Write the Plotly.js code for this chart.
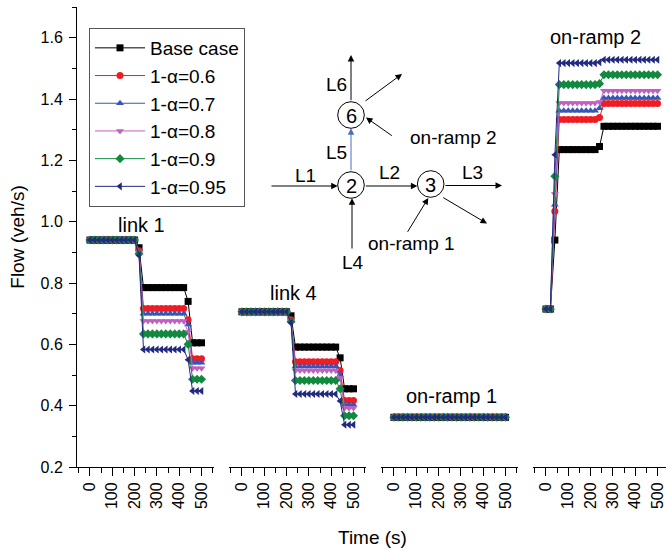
<!DOCTYPE html>
<html><head><meta charset="utf-8">
<script src="https://cdn.plot.ly/plotly-3.0.1.min.js"></script>
<style>html,body{margin:0;padding:0;background:#fff}#chart{width:666px;height:550px}</style>
</head><body><div id="chart"></div>
<script>
// ---------------- DATA ----------------
const time = [0,20,40,60,80,100,120,140,160,180,200,220,240,260,280,300,320,340,360,380,400,420,440,460,480,500];
const seriesNames = ['Base case','1-α=0.6','1-α=0.7','1-α=0.8','1-α=0.9','1-α=0.95'];
const panelLabels = ['link 1','link 4','on-ramp 1','on-ramp 2'];
const xTickVals = [0,100,200,300,400,500];

// link 1
const link1Base = [0.94,0.94,0.94,0.94,0.94,0.94,0.94,0.94,0.94,0.94,0.94,0.915,0.785,0.785,0.785,0.785,0.785,0.785,0.785,0.785,0.785,0.785,0.74,0.605,0.605,0.605];
const link1A06  = [0.94,0.94,0.94,0.94,0.94,0.94,0.94,0.94,0.94,0.94,0.94,0.905,0.717,0.717,0.717,0.717,0.717,0.717,0.717,0.717,0.717,0.717,0.68,0.553,0.553,0.553];
const link1A07  = [0.94,0.94,0.94,0.94,0.94,0.94,0.94,0.94,0.94,0.94,0.94,0.90,0.700,0.700,0.700,0.700,0.700,0.700,0.700,0.700,0.700,0.700,0.665,0.540,0.540,0.540];
const link1A08  = [0.94,0.94,0.94,0.94,0.94,0.94,0.94,0.94,0.94,0.94,0.94,0.90,0.676,0.676,0.676,0.676,0.676,0.676,0.676,0.676,0.676,0.676,0.64,0.522,0.522,0.522];
const link1A09  = [0.94,0.94,0.94,0.94,0.94,0.94,0.94,0.94,0.94,0.94,0.94,0.895,0.634,0.634,0.634,0.634,0.634,0.634,0.634,0.634,0.634,0.634,0.60,0.486,0.486,0.486];
const link1A095 = [0.94,0.94,0.94,0.94,0.94,0.94,0.94,0.94,0.94,0.94,0.94,0.89,0.583,0.583,0.583,0.583,0.583,0.583,0.583,0.583,0.583,0.583,0.55,0.448,0.448,0.448];

// link 4
const link4Base = [0.706,0.706,0.706,0.706,0.706,0.706,0.706,0.706,0.706,0.706,0.706,0.693,0.591,0.591,0.591,0.591,0.591,0.591,0.591,0.591,0.591,0.591,0.556,0.455,0.455,0.455];
const link4A06  = [0.706,0.706,0.706,0.706,0.706,0.706,0.706,0.706,0.706,0.706,0.706,0.68,0.543,0.543,0.543,0.543,0.543,0.543,0.543,0.543,0.543,0.543,0.515,0.417,0.417,0.417];
const link4A07  = [0.706,0.706,0.706,0.706,0.706,0.706,0.706,0.706,0.706,0.706,0.706,0.678,0.528,0.528,0.528,0.528,0.528,0.528,0.528,0.528,0.528,0.528,0.50,0.403,0.403,0.403];
const link4A08  = [0.706,0.706,0.706,0.706,0.706,0.706,0.706,0.706,0.706,0.706,0.706,0.676,0.515,0.515,0.515,0.515,0.515,0.515,0.515,0.515,0.515,0.515,0.49,0.392,0.392,0.392];
const link4A09  = [0.706,0.706,0.706,0.706,0.706,0.706,0.706,0.706,0.706,0.706,0.706,0.674,0.482,0.482,0.482,0.482,0.482,0.482,0.482,0.482,0.482,0.482,0.455,0.367,0.367,0.367];
const link4A095 = [0.706,0.706,0.706,0.706,0.706,0.706,0.706,0.706,0.706,0.706,0.706,0.67,0.438,0.438,0.438,0.438,0.438,0.438,0.438,0.438,0.438,0.438,0.415,0.338,0.338,0.338];

// on-ramp 1 (all series identical)
const ramp1All = [0.362,0.362,0.362,0.362,0.362,0.362,0.362,0.362,0.362,0.362,0.362,0.362,0.362,0.362,0.362,0.362,0.362,0.362,0.362,0.362,0.362,0.362,0.362,0.362,0.362,0.362];

// on-ramp 2
const ramp2Base = [0.715,0.715,0.94,1.235,1.235,1.235,1.235,1.235,1.235,1.235,1.235,1.235,1.245,1.311,1.311,1.311,1.311,1.311,1.311,1.311,1.311,1.311,1.311,1.311,1.311,1.311];
const ramp2A06  = [0.715,0.715,1.034,1.333,1.333,1.333,1.333,1.333,1.333,1.333,1.333,1.333,1.34,1.385,1.385,1.385,1.385,1.385,1.385,1.385,1.385,1.385,1.385,1.385,1.385,1.385];
const ramp2A07  = [0.715,0.715,1.055,1.362,1.362,1.362,1.362,1.362,1.362,1.362,1.362,1.362,1.37,1.403,1.403,1.403,1.403,1.403,1.403,1.403,1.403,1.403,1.403,1.403,1.403,1.403];
const ramp2A08  = [0.715,0.715,1.09,1.387,1.387,1.387,1.387,1.387,1.387,1.387,1.387,1.387,1.39,1.427,1.427,1.427,1.427,1.427,1.427,1.427,1.427,1.427,1.427,1.427,1.427,1.427];
const ramp2A09  = [0.715,0.715,1.148,1.447,1.447,1.447,1.447,1.447,1.447,1.447,1.447,1.447,1.45,1.479,1.479,1.479,1.479,1.479,1.479,1.479,1.479,1.479,1.479,1.479,1.479,1.479];
const ramp2A095 = [0.715,0.715,1.218,1.517,1.517,1.517,1.517,1.517,1.517,1.517,1.517,1.517,1.52,1.528,1.528,1.528,1.528,1.528,1.528,1.528,1.528,1.528,1.528,1.528,1.528,1.528];

const panels = [
  [link1Base, link1A06, link1A07, link1A08, link1A09, link1A095],
  [link4Base, link4A06, link4A07, link4A08, link4A09, link4A095],
  [ramp1All, ramp1All, ramp1All, ramp1All, ramp1All, ramp1All],
  [ramp2Base, ramp2A06, ramp2A07, ramp2A08, ramp2A09, ramp2A095]
];

// ---------------- STYLE / LAYOUT ----------------
const styles = [
  {color:'#000000', symbol:'square'},
  {color:'#f01c24', symbol:'circle'},
  {color:'#3557b8', symbol:'triangle-up'},
  {color:'#c35ec3', symbol:'triangle-down'},
  {color:'#12893f', symbol:'diamond'},
  {color:'#222a80', symbol:'triangle-left'}
];
const FONT = "'Liberation Sans', Arial, sans-serif";
const W = 666, H = 550, ML = 77, MR = 0, MT = 7, MB = 83;
const PW = W - ML - MR, PH = H - MT - MB;
const px = v => (v - ML) / PW;
const py = v => (H - MB - v) / PH;

const traces = [];
panels.forEach((series, p) => {
  series.forEach((vals, s) => {
    traces.push({
      x: time, y: vals,
      xaxis: p === 0 ? 'x' : 'x' + (p + 1), yaxis: 'y',
      type: 'scatter', mode: 'lines+markers',
      name: seriesNames[s], legendgroup: seriesNames[s], showlegend: p === 0,
      line: {color: styles[s].color, width: 1},
      marker: {color: styles[s].color, symbol: styles[s].symbol, size: 7},
      cliponaxis: false
    });
  });
});

const panelPx = [[77,214],[229,366],[381,518],[533,666]];
const panelRanges = [[-58,556],[-58,556],[-58,556],[-58,538]];
function xAxis(i){
  return {
    domain: [px(panelPx[i][0]), px(panelPx[i][1])],
    range: panelRanges[i], anchor: 'y',
    showline: true, linecolor: '#000', linewidth: 1,
    ticks: 'outside', ticklen: 8, tickwidth: 1, tickcolor: '#000',
    tickmode: 'array', tickvals: xTickVals, tickangle: -90,
    tickfont: {size: 16, family: FONT, color: '#000'},
    minor: {ticks: 'outside', ticklen: 5, tickwidth: 1, tickcolor: '#000', tickmode: 'linear', tick0: 50, dtick: 100, showgrid: false},
    showgrid: false, zeroline: false, fixedrange: true
  };
}

const annotations = [];
function label(text, cx, cy, size){
  annotations.push({xref:'paper', yref:'paper', x: px(cx), y: py(cy), text: text, showarrow: false,
    xanchor:'center', yanchor:'middle', font:{size: size, family: FONT, color:'#000'}});
}
function arrow(tx, ty, hx, hy, color){
  annotations.push({xref:'paper', yref:'paper', x: px(hx), y: py(hy), ax: tx - hx, ay: ty - hy,
    axref:'pixel', ayref:'pixel', text:'', showarrow: true, arrowhead: 2, arrowsize: 1.3,
    arrowwidth: 1, arrowcolor: color || '#000', standoff: 0, startstandoff: 0});
}
// panel labels
label(panelLabels[0], 141.5, 225, 20);
label(panelLabels[1], 293, 293, 20);
label(panelLabels[2], 451, 396, 20);
label(panelLabels[3], 595, 37, 20);
// x title
label('Time (s)', 372, 537, 19);

// network diagram
const nodes = [{n:'2', x:351, y:185}, {n:'3', x:430.7, y:184}, {n:'6', x:351, y:115}];
const R = 13.3;
const shapes = nodes.map(c => ({type:'circle', xref:'paper', yref:'paper',
  x0: px(c.x - R), x1: px(c.x + R), y0: py(c.y + R), y1: py(c.y - R),
  line:{color:'#000', width:1}, fillcolor:'rgba(0,0,0,0)'}));
nodes.forEach(c => label(c.n, c.x, c.y + 1, 20));
arrow(270, 186, 337.7, 186);           // L1
arrow(364.3, 186, 417.4, 186);         // L2
arrow(444, 185.5, 502, 185.5);         // L3
arrow(352, 250, 352, 198.3);           // L4
arrow(351, 171.7, 351, 128.3, '#4a6cc8'); // L5
arrow(351, 101.7, 351, 55);            // L6
arrow(364, 102, 402, 74);              // out of node 6
arrow(393.3, 136.7, 366, 117.5);       // on-ramp 2 into 6
arrow(406.7, 233.3, 428.3, 198);       // on-ramp 1 into 3
arrow(441.7, 196.7, 487, 223.5);       // out of node 3
label('L1', 305, 175, 19);
label('L2', 389, 172.5, 19);
label('L3', 472.5, 172.5, 19);
label('L4', 352.5, 262, 19);
label('L5', 336, 152.5, 19);
label('L6', 336, 84, 19);
label('on-ramp 2', 453.3, 137, 19);
label('on-ramp 1', 411.7, 243.5, 19);

const layout = {
  width: W, height: H,
  margin: {l: ML, r: MR, t: MT, b: MB, pad: 0},
  paper_bgcolor: '#fff', plot_bgcolor: 'rgba(0,0,0,0)',
  font: {family: FONT, color: '#000', size: 16},
  showlegend: true,
  legend: {x: px(89), y: py(28), xanchor: 'left', yanchor: 'top',
    bgcolor: '#fff', bordercolor: '#555', borderwidth: 1,
    font: {size: 19, family: FONT, color: '#000'}, itemwidth: 50, tracegroupgap: 0,
    entrywidth: 165, entrywidthmode: 'pixels'},
  xaxis: xAxis(0), xaxis2: xAxis(1), xaxis3: xAxis(2), xaxis4: xAxis(3),
  yaxis: {
    domain: [0, 1], range: [0.2, 1.7], anchor: 'x',
    showline: true, linecolor: '#000', linewidth: 1,
    ticks: 'outside', ticklen: 7, tickwidth: 1, tickcolor: '#000',
    tickmode: 'linear', tick0: 0.2, dtick: 0.2, tickformat: '.1f',
    tickfont: {size: 16, family: FONT, color: '#000'},
    minor: {ticks: 'outside', ticklen: 4, tickwidth: 1, tickcolor: '#000', tickmode: 'linear', tick0: 0.3, dtick: 0.2, showgrid: false},
    ticklabelstandoff: 3,
    title: {text: 'Flow (veh/s)', font: {size: 19, family: FONT, color: '#000'}, standoff: 10},
    showgrid: false, zeroline: false, fixedrange: true
  },
  annotations: annotations,
  shapes: shapes
};

Plotly.newPlot('chart', traces, layout, {displayModeBar: false, staticPlot: true});
</script>
</body></html>
